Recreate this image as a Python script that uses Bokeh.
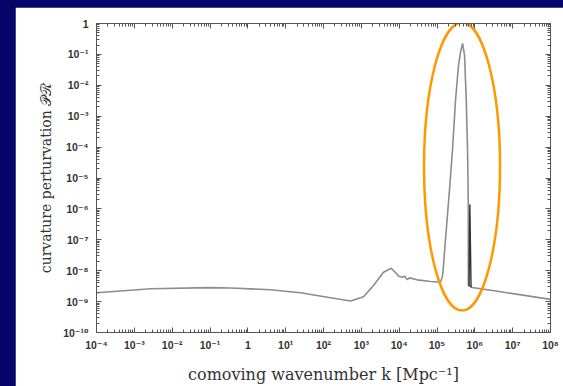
from bokeh.plotting import figure
from bokeh.models import FixedTicker, LogAxis, CustomJSTickFormatter
from bokeh.embed import file_html
from bokeh.resources import INLINE

# ---- data ----
k_vals = [1.0e-4, 2.67e-3, 0.10, 0.348, 3.98, 24.7, 153, 518, 1143, 2099, 3864,
          6166, 9795, 12050, 13870, 16330, 18790, 29990, 67450, 123900, 140000,
          148900, 167900, 189700, 214300, 257000, 309000, 370700, 418800, 473200,
          534600, 592900, 641200, 669900, 674500, 853100, 4.775e6, 1.0e8]
P_vals = [1.93e-9, 2.60e-9, 2.84e-9, 2.74e-9, 2.42e-9, 1.93e-9, 1.33e-9, 1.04e-9,
          1.44e-9, 3.32e-9, 8.95e-9, 1.20e-8, 6.65e-9, 6.18e-9, 6.65e-9, 5.18e-9,
          5.86e-9, 5.06e-9, 4.47e-9, 4.21e-9, 6.8e-9, 1.54e-8, 1.05e-7, 6.70e-7,
          4.27e-6, 8.24e-5, 3.34e-3, 4.47e-2, 0.117, 0.228, 9.35e-2, 3.34e-3,
          8.24e-5, 2.04e-6, 3.32e-9, 2.86e-9, 2.08e-9, 1.18e-9]

spike_k = [703000, 738000, 794000]
spike_P = [3.2e-9, 1.4e-6, 2.9e-9]

highlight_k = [4.59e5]
highlight_P = [2.34e-5]

x_ticks = [1e-4, 1e-3, 1e-2, 1e-1, 1, 1e1, 1e2, 1e3, 1e4, 1e5, 1e6, 1e7, 1e8]
x_tick_labels = ["10⁻⁴", "10⁻³", "10⁻²", "10⁻¹", "1", "10¹", "10²", "10³",
                 "10⁴", "10⁵", "10⁶", "10⁷", "10⁸"]
y_ticks = [1e-10, 1e-9, 1e-8, 1e-7, 1e-6, 1e-5, 1e-4, 1e-3, 1e-2, 1e-1, 1]
y_tick_labels = ["10⁻¹⁰", "10⁻⁹", "10⁻⁸", "10⁻⁷", "10⁻⁶", "10⁻⁵", "10⁻⁴",
                 "10⁻³", "10⁻²", "10⁻¹", "1"]

x_minor = [m * 10.0 ** e for e in range(-4, 8) for m in range(2, 10)]
y_minor = [m * 10.0 ** e for e in range(-10, 0) for m in range(2, 10)]

AX = "#555555"
TICK_FONT = "Liberation Sans, DejaVu Sans, sans-serif"
SERIF = "DejaVu Serif, serif"

p = figure(width=548, height=379, x_axis_type="log", y_axis_type="log",
           x_range=(1e-4, 1e8), y_range=(1e-10, 1),
           output_backend="svg", toolbar_location=None,
           min_border_left=81, min_border_right=13,
           min_border_top=16, min_border_bottom=52)
p.background_fill_color = "white"
p.border_fill_color = "white"
p.outline_line_color = AX
p.outline_line_width = 1
p.grid.visible = False


def fmt(vals, labels):
    return CustomJSTickFormatter(args=dict(vals=vals, labels=labels), code="""
        let i = 0, best = 1e9;
        for (let j = 0; j < vals.length; j++) {
            const d = Math.abs(Math.log10(vals[j]) - Math.log10(tick));
            if (d < best) { best = d; i = j; }
        }
        return labels[i];
    """)


def style(ax, show):
    ax.axis_line_color = AX
    ax.major_tick_line_color = AX
    ax.minor_tick_line_color = AX
    ax.major_tick_in = 5
    ax.major_tick_out = 0
    ax.minor_tick_in = 3
    ax.minor_tick_out = 0
    ax.major_label_text_font = TICK_FONT
    ax.major_label_text_font_size = "10.5px"
    ax.major_label_text_color = "#333333" if show else None
    ax.major_label_text_font_style = "bold"


xa = p.xaxis[0]
xa.ticker = FixedTicker(ticks=x_ticks, minor_ticks=x_minor)
xa.formatter = fmt(x_ticks, x_tick_labels)
style(xa, True)
xa.major_label_standoff = 6
xa.axis_label = "comoving wavenumber k [Mpc⁻¹]"
xa.axis_label_text_font = SERIF
xa.axis_label_text_font_size = "16px"
xa.axis_label_text_font_style = "normal"
xa.axis_label_text_color = "#333333"
xa.axis_label_standoff = 11

ya = p.yaxis[0]
ya.ticker = FixedTicker(ticks=y_ticks, minor_ticks=y_minor)
ya.formatter = fmt(y_ticks, y_tick_labels)
style(ya, True)
ya.major_label_standoff = 8
ya.axis_label = "curvature perturvation 𝒫ℛ"
ya.axis_label_text_font = SERIF
ya.axis_label_text_font_size = "14px"
ya.axis_label_text_font_style = "normal"
ya.axis_label_text_color = "#333333"
ya.axis_label_standoff = 6

top = LogAxis(ticker=FixedTicker(ticks=x_ticks, minor_ticks=x_minor),
              formatter=fmt(x_ticks, x_tick_labels))
style(top, False)
top.major_label_standoff = 0
p.add_layout(top, "above")
right = LogAxis(ticker=FixedTicker(ticks=y_ticks, minor_ticks=y_minor),
                formatter=fmt(y_ticks, y_tick_labels))
style(right, False)
right.major_label_standoff = 0
p.add_layout(right, "right")

p.line(k_vals, P_vals, line_color="#8c8c8c", line_width=1.6)
p.line(spike_k, spike_P, line_color="#333333", line_width=1.4)

p.ellipse(x=highlight_k, y=highlight_P, width=76, height=288,
          width_units="screen", height_units="screen",
          fill_color=None, line_color="#ff9900", line_width=2.5)

html = file_html(p, INLINE)
html = html.replace(
    "</head>",
    "<style>html, body { background-color: #05056a; overflow: hidden; }"
    " body { margin: 0; padding: 7px 0 0 15px; }</style></head>", 1)
open("out.html", "w").write(html)
